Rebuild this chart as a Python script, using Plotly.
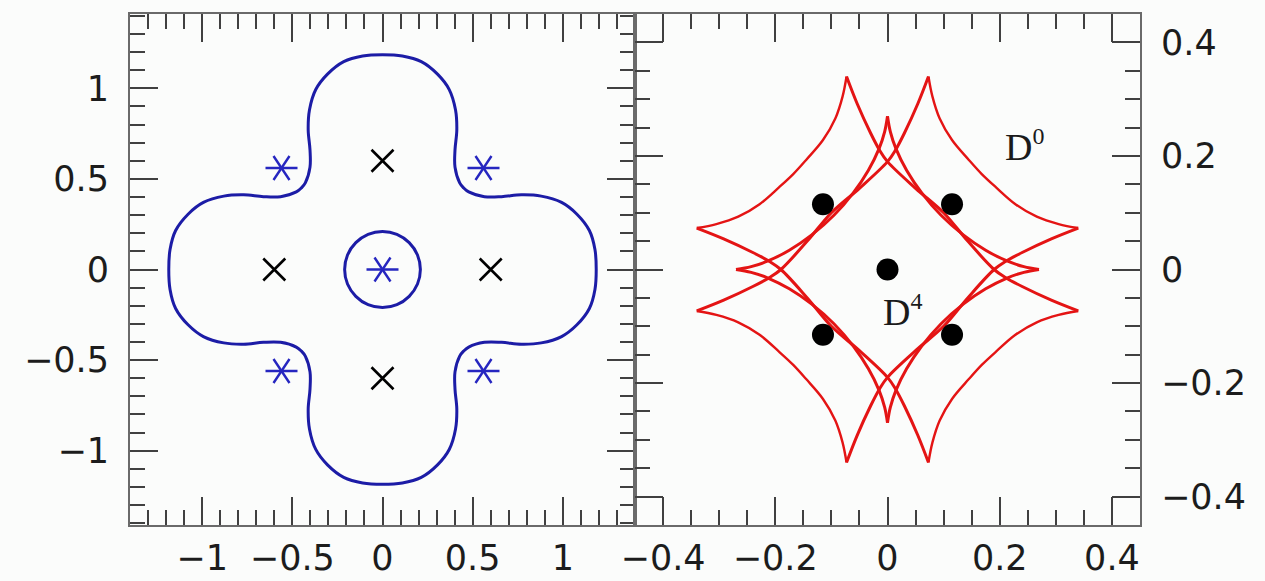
import plotly.graph_objects as go

# ---------------- lens plane (left panel) ----------------
# outer critical curve, traced counter-clockwise from the top
clover_x = [0.0, -0.11, -0.215, -0.305, -0.37, -0.405, -0.412, -0.402, -0.402, -0.428,
            -0.45, -0.478, -0.565, -0.66, -0.77, -0.88, -0.993, -1.078, -1.147, -1.178,
            -1.185, -1.178, -1.147, -1.078, -0.993, -0.88, -0.77, -0.66, -0.565, -0.478,
            -0.45, -0.428, -0.402, -0.402, -0.412, -0.405, -0.37, -0.305, -0.215, -0.11,
            0.0, 0.11, 0.215, 0.305, 0.37, 0.405, 0.412, 0.402, 0.402, 0.428,
            0.45, 0.478, 0.565, 0.66, 0.77, 0.88, 0.993, 1.078, 1.147, 1.178,
            1.185, 1.178, 1.147, 1.078, 0.993, 0.88, 0.77, 0.66, 0.565, 0.478,
            0.45, 0.428, 0.402, 0.402, 0.412, 0.405, 0.37, 0.305, 0.215, 0.11, 0.0]
clover_y = [1.185, 1.178, 1.147, 1.078, 0.993, 0.88, 0.77, 0.66, 0.565, 0.478,
            0.45, 0.428, 0.402, 0.402, 0.412, 0.405, 0.37, 0.305, 0.215, 0.11,
            0.0, -0.11, -0.215, -0.305, -0.37, -0.405, -0.412, -0.402, -0.402, -0.428,
            -0.45, -0.478, -0.565, -0.66, -0.77, -0.88, -0.993, -1.078, -1.147, -1.178,
            -1.185, -1.178, -1.147, -1.078, -0.993, -0.88, -0.77, -0.66, -0.565, -0.478,
            -0.45, -0.428, -0.402, -0.402, -0.412, -0.405, -0.37, -0.305, -0.215, -0.11,
            0.0, 0.11, 0.215, 0.305, 0.37, 0.405, 0.412, 0.402, 0.402, 0.428,
            0.45, 0.478, 0.565, 0.66, 0.77, 0.88, 0.993, 1.078, 1.147, 1.178, 1.185]

# inner critical curve around the centre
ring_x = [0.21, 0.194, 0.148, 0.080, 0.0, -0.080, -0.148, -0.194, -0.21,
          -0.194, -0.148, -0.080, 0.0, 0.080, 0.148, 0.194, 0.21]
ring_y = [0.0, 0.080, 0.148, 0.194, 0.21, 0.194, 0.148, 0.080, 0.0,
          -0.080, -0.148, -0.194, -0.21, -0.194, -0.148, -0.080, 0.0]

# lens positions (crosses) and image positions (asterisks)
lens_x = [0.0, -0.6, 0.6, 0.0]
lens_y = [0.6, 0.0, 0.0, -0.6]
image_x = [-0.56, 0.56, 0.0, -0.56, 0.56]
image_y = [0.56, 0.56, 0.0, -0.56, -0.56]

# ---------------- source plane (right panel) ----------------
# outer concave arcs between neighbouring cusps
outer_arcs = [
    ([0.073, 0.080, 0.093, 0.115, 0.145, 0.168, 0.193, 0.228, 0.266, 0.305, 0.340],
     [0.340, 0.305, 0.266, 0.228, 0.193, 0.168, 0.145, 0.115, 0.093, 0.080, 0.073]),
    ([-0.073, -0.080, -0.093, -0.115, -0.145, -0.168, -0.193, -0.228, -0.266, -0.305, -0.340],
     [0.340, 0.305, 0.266, 0.228, 0.193, 0.168, 0.145, 0.115, 0.093, 0.080, 0.073]),
    ([0.073, 0.080, 0.093, 0.115, 0.145, 0.168, 0.193, 0.228, 0.266, 0.305, 0.340],
     [-0.340, -0.305, -0.266, -0.228, -0.193, -0.168, -0.145, -0.115, -0.093, -0.080, -0.073]),
    ([-0.073, -0.080, -0.093, -0.115, -0.145, -0.168, -0.193, -0.228, -0.266, -0.305, -0.340],
     [-0.340, -0.305, -0.266, -0.228, -0.193, -0.168, -0.145, -0.115, -0.093, -0.080, -0.073]),
]

# long arcs running across the middle from one cusp to the opposite side
cross_arcs = [
    ([-0.073, -0.054, -0.030, -0.014, 0.0, 0.05, 0.100, 0.143, 0.19, 0.21, 0.240, 0.292, 0.340],
     [0.340, 0.292, 0.240, 0.21, 0.19, 0.143, 0.100, 0.05, 0.0, -0.014, -0.030, -0.054, -0.073]),
    ([0.073, 0.054, 0.030, 0.014, 0.0, -0.05, -0.100, -0.143, -0.19, -0.21, -0.240, -0.292, -0.340],
     [0.340, 0.292, 0.240, 0.21, 0.19, 0.143, 0.100, 0.05, 0.0, -0.014, -0.030, -0.054, -0.073]),
    ([0.340, 0.292, 0.240, 0.21, 0.19, 0.143, 0.100, 0.05, 0.0, -0.014, -0.030, -0.054, -0.073],
     [0.073, 0.054, 0.030, 0.014, 0.0, -0.05, -0.100, -0.143, -0.19, -0.21, -0.240, -0.292, -0.340]),
    ([0.073, 0.054, 0.030, 0.014, 0.0, -0.05, -0.100, -0.143, -0.19, -0.21, -0.240, -0.292, -0.340],
     [-0.340, -0.292, -0.240, -0.21, -0.19, -0.143, -0.100, -0.05, 0.0, 0.014, 0.030, 0.054, 0.073]),
]

# small four-cusped caustic in the centre
diamond_arcs = [
    ([0.0, 0.005, 0.015, 0.034, 0.061, 0.0955, 0.135, 0.175, 0.213, 0.243, 0.27],
     [0.27, 0.243, 0.213, 0.175, 0.135, 0.0955, 0.061, 0.034, 0.015, 0.005, 0.0]),
    ([0.0, -0.005, -0.015, -0.034, -0.061, -0.0955, -0.135, -0.175, -0.213, -0.243, -0.27],
     [0.27, 0.243, 0.213, 0.175, 0.135, 0.0955, 0.061, 0.034, 0.015, 0.005, 0.0]),
    ([0.0, 0.005, 0.015, 0.034, 0.061, 0.0955, 0.135, 0.175, 0.213, 0.243, 0.27],
     [-0.27, -0.243, -0.213, -0.175, -0.135, -0.0955, -0.061, -0.034, -0.015, -0.005, 0.0]),
    ([0.0, -0.005, -0.015, -0.034, -0.061, -0.0955, -0.135, -0.175, -0.213, -0.243, -0.27],
     [-0.27, -0.243, -0.213, -0.175, -0.135, -0.0955, -0.061, -0.034, -0.015, -0.005, 0.0]),
]

# source positions
source_x = [-0.115, 0.115, 0.0, -0.115, 0.115]
source_y = [0.115, 0.115, 0.0, -0.115, -0.115]

# axis ticks
left_ticks = [-1, -0.5, 0, 0.5, 1]
left_ticktext = ["\u22121", "\u22120.5", "0", "0.5", "1"]
right_ticks = [-0.4, -0.2, 0, 0.2, 0.4]
right_ticktext = ["\u22120.4", "\u22120.2", "0", "0.2", "0.4"]

# region labels in the source plane
region_base = ["D", "D"]
region_sup = ["0", "4"]
region_x = [0.205, -0.011]
region_y = [0.218, -0.072]

BG = "#fbfcfb"
BLUE = "#1c1ca6"
STAR_BLUE = "#2626c0"
RED = "#e41414"


def joined(arcs):
    xs, ys = [], []
    for ax_, ay_ in arcs:
        xs += list(ax_) + [None]
        ys += list(ay_) + [None]
    return xs, ys


fig = go.Figure()

# left panel curves
fig.add_trace(go.Scatter(x=clover_x, y=clover_y, mode="lines",
                         line=dict(color=BLUE, width=3, shape="spline"),
                         xaxis="x", yaxis="y", hoverinfo="skip"))
fig.add_trace(go.Scatter(x=ring_x, y=ring_y, mode="lines",
                         line=dict(color=BLUE, width=3, shape="spline"),
                         xaxis="x", yaxis="y", hoverinfo="skip"))

# right panel caustics
for arcs, lw in ((outer_arcs, 2.4), (cross_arcs, 3.0), (diamond_arcs, 3.0)):
    cx, cy = joined(arcs)
    fig.add_trace(go.Scatter(x=cx, y=cy, mode="lines", connectgaps=False,
                             line=dict(color=RED, width=lw, shape="spline"),
                             xaxis="x2", yaxis="y2", hoverinfo="skip"))

# markers
fig.add_trace(go.Scatter(x=lens_x, y=lens_y, mode="markers",
                         marker=dict(symbol="x-thin", size=22, color="black",
                                     line=dict(color="black", width=2.6)),
                         xaxis="x", yaxis="y"))
for sym in ("y-left", "y-right"):
    fig.add_trace(go.Scatter(x=image_x, y=image_y, mode="markers",
                             marker=dict(symbol=sym, size=20, color=STAR_BLUE,
                                         line=dict(color=STAR_BLUE, width=2.4)),
                             xaxis="x", yaxis="y"))
fig.add_trace(go.Scatter(x=source_x, y=source_y, mode="markers",
                         marker=dict(symbol="circle", size=22, color="black",
                                     line=dict(width=0)),
                         xaxis="x2", yaxis="y2"))

for base, sup, tx, ty in zip(region_base, region_sup, region_x, region_y):
    fig.add_annotation(x=tx, y=ty, xref="x2", yref="y2",
                       text=base + "<sup><span style='font-size:24px'>" + sup + "</span></sup>",
                       showarrow=False, xanchor="left", yanchor="middle",
                       font=dict(family="Liberation Serif", size=38, color="#1a1a1a"))

tickfont = dict(family="DejaVu Sans", size=35, color="#1c1c1c")
common = dict(showline=True, linecolor="#6a6a6a", linewidth=2, mirror="allticks",
              ticks="inside", ticklen=28, tickwidth=2, tickcolor="#404040",
              showgrid=False, zeroline=False, tickfont=tickfont, tickangle=0,
              automargin=False)

fig.update_layout(
    width=1265, height=581,
    margin=dict(l=130, r=125, t=14, b=56),
    paper_bgcolor=BG, plot_bgcolor=BG,
    showlegend=False,
    xaxis=dict(domain=[0, 0.5], range=[-1.4, 1.4], anchor="y",
               tickvals=left_ticks, ticktext=left_ticktext, ticklabelstandoff=1,
               minor=dict(ticks="inside", ticklen=15, tickwidth=2, tickcolor="#404040",
                          dtick=0.1, tick0=0), **common),
    yaxis=dict(domain=[0, 1], range=[-1.41, 1.41], anchor="x",
               tickvals=left_ticks, ticktext=left_ticktext, ticklabelstandoff=12,
               minor=dict(ticks="inside", ticklen=15, tickwidth=2, tickcolor="#404040",
                          dtick=0.1, tick0=0), **common),
    xaxis2=dict(domain=[0.5, 1], range=[-0.45, 0.45], anchor="y2",
                tickvals=right_ticks, ticktext=right_ticktext, ticklabelstandoff=1,
                minor=dict(ticks="inside", ticklen=15, tickwidth=2, tickcolor="#404040",
                           dtick=0.05, tick0=0), **common),
    yaxis2=dict(domain=[0, 1], range=[-0.45, 0.45], anchor="x2", side="right",
                tickvals=right_ticks, ticktext=right_ticktext, ticklabelstandoff=12,
                minor=dict(ticks="inside", ticklen=15, tickwidth=2, tickcolor="#404040",
                           dtick=0.05, tick0=0), **common),
)

fig.write_html("out.html", config={"displayModeBar": False})
